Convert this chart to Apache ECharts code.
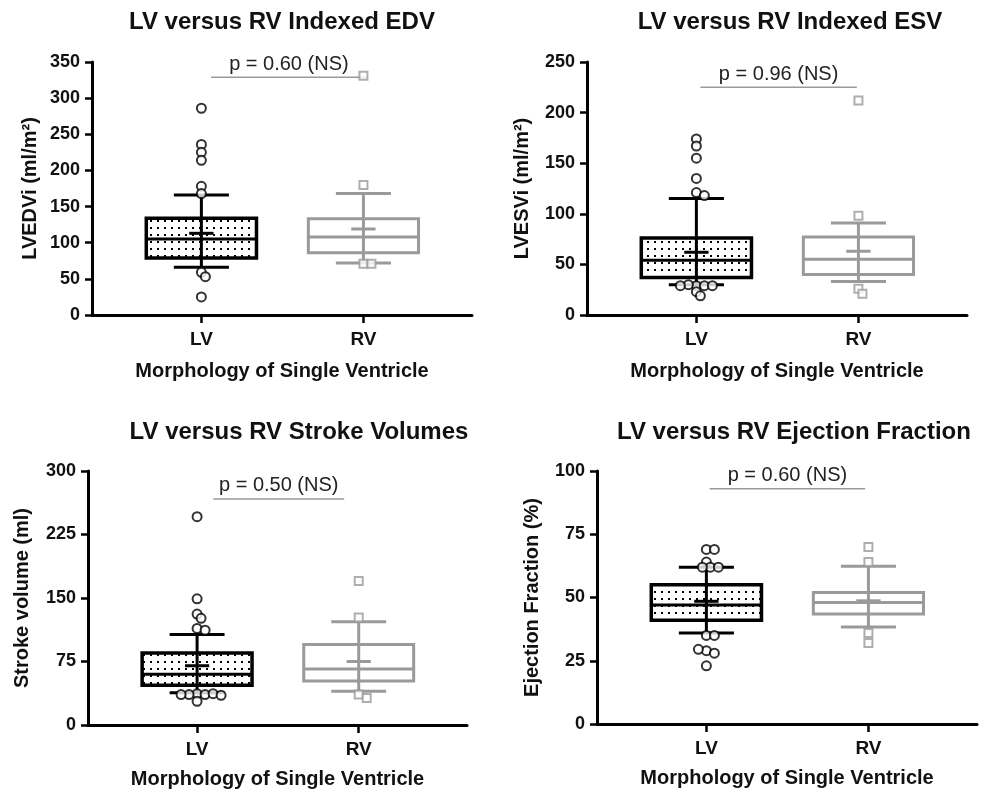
<!DOCTYPE html>
<html>
<head>
<meta charset="utf-8">
<script src="https://cdn.jsdelivr.net/npm/echarts@6/dist/echarts.min.js"></script>
<style>
html, body { margin: 0; padding: 0; background: #fff; }
#chart { width: 987px; height: 794px; }
</style>
</head>
<body>
<div id="chart"></div>
<script>
var groups = ['LV', 'RV'];

// box stats: [low whisker, q1, median, q3, high whisker, mean]
var edvLV = [66, 79, 105, 134, 166, 113];
var edvRV = [72, 86, 108, 133, 168, 119];
var edvOutLV = [286, 236, 225, 214, 178, 168, 59, 53, 25];
var edvOutRV = [331, 180, 71, 71];

var esvLV = [30, 37, 54, 76, 115, 62];
var esvRV = [33, 40, 55, 77, 91, 63];
var esvOutLV = [174, 167, 155, 135, 121, 118, 29, 29, 30, 29, 29, 23, 19];
var esvOutRV = [212, 98, 26, 21];

var svLV = [38, 47, 60, 85, 107, 70];
var svRV = [40, 52, 66, 95, 122, 75];
var svOutLV = [246, 149, 131, 126, 114, 112, 37, 36, 36, 37, 36, 35, 28];
var svOutRV = [170, 127, 36, 32];

var efLV = [36, 41, 47, 55, 62, 48.5];
var efRV = [38.3, 43.5, 48, 52, 62.4, 48.7];
var efOutLV = [69, 69, 64, 62, 62, 62, 35, 35, 29, 28, 29.5, 23];
var efOutRV = [70, 64, 36, 32];

var titles = ['LV versus RV Indexed EDV', 'LV versus RV Indexed ESV',
              'LV versus RV Stroke Volumes', 'LV versus RV Ejection Fraction'];
var yNames = ['LVEDVi (ml/m²)', 'LVESVi (ml/m²)', 'Stroke volume (ml)', 'Ejection Fraction (%)'];
var yMax = [350, 250, 300, 100];
var yStep = [50, 50, 75, 25];
var pTexts = ['p = 0.60 (NS)', 'p = 0.96 (NS)', 'p = 0.50 (NS)', 'p = 0.60 (NS)'];
var pHeights = [329, 225, 267, 93];
var pSpans = [[1.06, 2.02], [1.025, 1.99], [1.10, 1.91], [1.02, 1.98]];

var boxes = [[edvLV, edvRV], [esvLV, esvRV], [svLV, svRV], [efLV, efRV]];
var outliers = [[edvOutLV, edvOutRV], [esvOutLV, esvOutRV], [svOutLV, svOutRV], [efOutLV, efOutRV]];

var FONT = "'Liberation Sans', Arial, sans-serif";
var GREY = '#9a9a9a';
var grids = [
    { left: 92, top: 62, width: 380, height: 253 },
    { left: 587, top: 62, width: 380, height: 253 },
    { left: 88, top: 471, width: 379, height: 254 },
    { left: 597, top: 471, width: 380, height: 253 }
];
var titlePos = [[282, 22], [790, 22], [299, 432], [794, 432]];
var X_MIN = 0.325, X_MAX = 2.67;

// dotted fill for the LV boxes
var tile = document.createElement('canvas');
tile.width = 7; tile.height = 7;
var tctx = tile.getContext('2d');
tctx.fillStyle = '#fff';
tctx.fillRect(0, 0, 7, 7);
tctx.fillStyle = '#000';
tctx.fillRect(3, 3, 2, 2);
var dotPattern = { image: tile, repeat: 'repeat' };

// spread outliers sideways when they would sit on top of each other
function spread(vals, base, g, max) {
    var pxY = g.height / max, pxX = g.width / (X_MAX - X_MIN);
    var placed = [];
    return vals.map(function (v) {
        var py = v * pxY, off = 0;
        for (var k = 0; k < 30; k++) {
            off = (k % 2 ? 1 : -1) * Math.ceil(k / 2) * 4;
            var ok = placed.every(function (p) {
                var dx = p[0] - off, dy = p[1] - py;
                return Math.sqrt(dx * dx + dy * dy) >= 5.5;
            });
            if (ok) break;
        }
        placed.push([off, py]);
        return [base + off / pxX, v];
    });
}

function renderBox(params, api) {
    var x = api.value(0);
    var isLV = x === 1;
    var col = isLV ? '#000' : GREY;
    var unit = api.size([1, 0])[0];
    var cx = api.coord([x, 0])[0];
    function y(i) { return api.coord([x, api.value(i)])[1]; }
    var yLo = y(1), yQ1 = y(2), yMed = y(3), yQ3 = y(4), yHi = y(5), yMean = y(6);
    var hb = unit * 0.34, hc = unit * 0.17, hm = unit * 0.075;
    var ls = { stroke: col, lineWidth: 3, fill: null };
    return {
        type: 'group',
        children: [
            { type: 'rect', shape: { x: cx - hb, y: yQ3, width: hb * 2, height: yQ1 - yQ3 },
              style: { fill: isLV ? dotPattern : '#fff', stroke: col, lineWidth: isLV ? 3.5 : 3 } },
            { type: 'line', shape: { x1: cx - hb, y1: yMed, x2: cx + hb, y2: yMed }, style: ls },
            { type: 'line', shape: { x1: cx, y1: yLo, x2: cx, y2: yHi }, style: ls },
            { type: 'line', shape: { x1: cx - hc, y1: yLo, x2: cx + hc, y2: yLo }, style: ls },
            { type: 'line', shape: { x1: cx - hc, y1: yHi, x2: cx + hc, y2: yHi }, style: ls },
            { type: 'line', shape: { x1: cx - hm, y1: yMean, x2: cx + hm, y2: yMean }, style: ls }
        ]
    };
}

function renderP(params, api) {
    var a = api.coord([api.value(0), api.value(2)]);
    var b = api.coord([api.value(1), api.value(2)]);
    return {
        type: 'group',
        children: [
            { type: 'line', shape: { x1: a[0], y1: a[1], x2: b[0], y2: b[1] },
              style: { stroke: GREY, lineWidth: 1.5 } },
            { type: 'text', x: (a[0] + b[0]) / 2, y: a[1] - 3,
              style: { text: pTexts[params.seriesIndex >> 2], fill: '#222', font: '20px ' + FONT,
                       textAlign: 'center', textVerticalAlign: 'bottom' } }
        ]
    };
}

var xAxes = [], yAxes = [], series = [], graphics = [];
for (var i = 0; i < 4; i++) {
    var g = grids[i];
    var bottomRow = i >= 2;
    xAxes.push({
        type: 'value', gridIndex: i, min: X_MIN, max: X_MAX,
        name: 'Morphology of Single Ventricle', nameLocation: 'middle', nameGap: bottomRow ? 44 : 46,
        nameTextStyle: { fontFamily: FONT, fontWeight: 'bold', fontSize: 20, color: '#111' },
        axisLine: { show: true, onZero: false, lineStyle: { color: '#000', width: 3 } },
        axisTick: { show: true, customValues: [1, 2], length: 8, lineStyle: { color: '#000', width: 2.5 } },
        axisLabel: { customValues: [1, 2], margin: 15, fontFamily: FONT, fontWeight: 'bold', fontSize: 19, color: '#111',
                     formatter: function (v) { return groups[Math.round(v) - 1]; } },
        splitLine: { show: false }
    });
    yAxes.push({
        type: 'value', gridIndex: i, min: 0, max: yMax[i], interval: yStep[i],
        name: yNames[i], nameLocation: 'middle', nameGap: [52, 55, 56, 55][i],
        nameTextStyle: { fontFamily: FONT, fontWeight: 'bold', fontSize: 20, color: '#111' },
        axisLine: { show: true, lineStyle: { color: '#000', width: 3 } },
        axisTick: { show: true, length: 7, lineStyle: { color: '#000', width: 2.5 } },
        axisLabel: { margin: 12, fontFamily: FONT, fontWeight: 'bold', fontSize: 18, color: '#111' },
        splitLine: { show: false }
    });
    series.push({
        type: 'custom', xAxisIndex: i, yAxisIndex: i, renderItem: renderBox, z: 2,
        encode: { x: 0, y: [1, 2, 3, 4, 5, 6] },
        data: [[1].concat(boxes[i][0]), [2].concat(boxes[i][1])]
    });
    series.push({
        type: 'scatter', xAxisIndex: i, yAxisIndex: i, z: 3,
        symbol: 'circle', symbolSize: 9,
        itemStyle: { color: '#fff', borderColor: '#000', borderWidth: 2 },
        data: spread(outliers[i][0], 1, g, yMax[i])
    });
    series.push({
        type: 'scatter', xAxisIndex: i, yAxisIndex: i, z: 3,
        symbol: 'rect', symbolSize: 8,
        itemStyle: { color: '#fff', borderColor: GREY, borderWidth: 2 },
        data: spread(outliers[i][1], 2, g, yMax[i])
    });
    series.push({
        type: 'custom', xAxisIndex: i, yAxisIndex: i, renderItem: renderP, z: 1,
        encode: { x: [0, 1], y: 2 },
        data: [[pSpans[i][0], pSpans[i][1], pHeights[i]]]
    });
    graphics.push({
        type: 'text', x: titlePos[i][0], y: titlePos[i][1],
        style: { text: titles[i], font: 'bold 24px ' + FONT, fill: '#111',
                 textAlign: 'center', textVerticalAlign: 'middle' }
    });
}

var chart = echarts.init(document.getElementById('chart'));
chart.setOption({
    animation: false,
    backgroundColor: '#fff',
    grid: grids,
    xAxis: xAxes,
    yAxis: yAxes,
    series: series,
    graphic: graphics
});
</script>
</body>
</html>
